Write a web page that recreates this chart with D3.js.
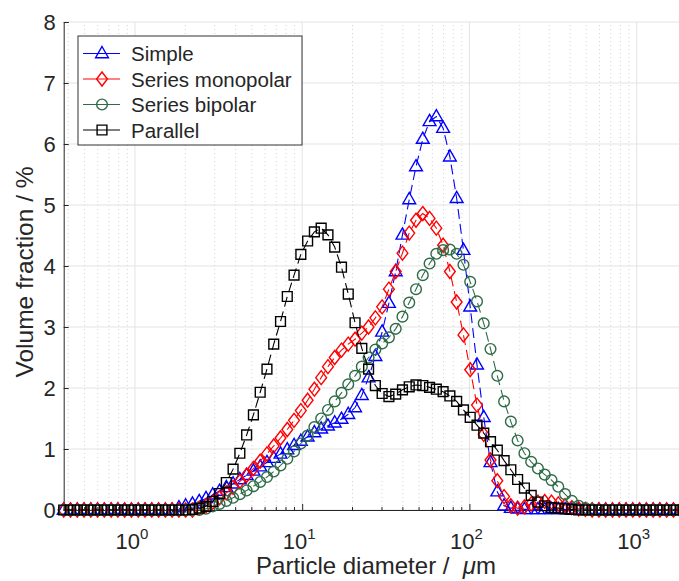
<!DOCTYPE html>
<html>
<head>
<meta charset="utf-8">
<script src="https://cdn.jsdelivr.net/npm/d3@7"></script>
<style>
  body { margin: 0; background: #fff; }
  text { font-family: "Liberation Sans", Arial, Helvetica, sans-serif; fill: #262626; }
</style>
</head>
<body>
<div id="chart"></div>
<script>
// size classes (µm), lower channel edges
var diameters = [0.375, 0.412, 0.452, 0.496, 0.545, 0.598, 0.656, 0.721, 0.791, 0.868,
  0.953, 1.047, 1.149, 1.261, 1.385, 1.520, 1.668, 1.832, 2.010, 2.207,
  2.423, 2.660, 2.920, 3.205, 3.519, 3.863, 4.240, 4.655, 5.110, 5.610,
  6.158, 6.760, 7.421, 8.147, 8.943, 9.818, 10.78, 11.83, 12.99, 14.26,
  15.65, 17.18, 18.86, 20.71, 22.73, 24.95, 27.39, 30.07, 33.01, 36.24,
  39.78, 43.67, 47.94, 52.62, 57.77, 63.41, 69.61, 76.42, 83.89, 92.09,
  101.1, 111.0, 121.8, 133.7, 146.8, 161.2, 176.9, 194.2, 213.2, 234.1,
  256.9, 282.1, 309.6, 339.9, 373.1, 409.6, 449.7, 493.6, 541.9, 594.9,
  653.0, 716.9, 786.9, 863.9, 948.3, 1041, 1143, 1255, 1377, 1512,
  1660, 1822];

var simple = [0, 0, 0, 0, 0, 0, 0, 0, 0, 0,
  0, 0, 0, 0, 0, 0, 0, 0.04, 0.07, 0.10,
  0.14, 0.19, 0.25, 0.31, 0.37, 0.43, 0.50, 0.57, 0.64, 0.71,
  0.78, 0.85, 0.92, 0.99, 1.06, 1.13, 1.20, 1.27, 1.33, 1.38,
  1.43, 1.49, 1.57, 1.68, 1.88, 2.17, 2.52, 2.92, 3.39, 3.91,
  4.51, 5.09, 5.63, 6.08, 6.37, 6.45, 6.26, 5.79, 5.11, 4.26,
  3.33, 2.38, 1.52, 0.78, 0.30, 0.07, 0.03, 0.02, 0.01, 0.01,
  0.01, 0.01, 0.01, 0.01, 0.01, 0, 0, 0, 0, 0,
  0, 0, 0, 0, 0, 0, 0, 0, 0, 0,
  0, 0];

var seriesMono = [0, 0, 0, 0, 0, 0, 0, 0, 0, 0,
  0, 0, 0, 0, 0, 0, 0, 0, 0, 0,
  0.03, 0.07, 0.13, 0.20, 0.28, 0.37, 0.47, 0.57, 0.68, 0.80,
  0.92, 1.05, 1.18, 1.32, 1.47, 1.63, 1.80, 1.98, 2.17, 2.35,
  2.50, 2.62, 2.72, 2.80, 2.90, 3.00, 3.15, 3.33, 3.62, 3.91,
  4.21, 4.54, 4.75, 4.86, 4.78, 4.62, 4.34, 3.91, 3.41, 2.87,
  2.30, 1.72, 1.24, 0.82, 0.48, 0.22, 0.07, 0.03, 0.05, 0.10,
  0.13, 0.14, 0.13, 0.10, 0.07, 0.04, 0.02, 0.01, 0, 0,
  0, 0, 0, 0, 0, 0, 0, 0, 0, 0,
  0, 0];

var seriesBi = [0, 0, 0, 0, 0, 0, 0, 0, 0, 0,
  0, 0, 0, 0, 0, 0, 0, 0, 0, 0,
  0, 0.02, 0.06, 0.10, 0.15, 0.20, 0.26, 0.32, 0.39, 0.46,
  0.54, 0.63, 0.73, 0.84, 0.96, 1.09, 1.22, 1.36, 1.50, 1.64,
  1.78, 1.92, 2.06, 2.20, 2.35, 2.50, 2.63, 2.73, 2.83, 2.97,
  3.17, 3.40, 3.62, 3.85, 4.04, 4.20, 4.26, 4.27, 4.20, 4.02,
  3.74, 3.42, 3.06, 2.64, 2.20, 1.78, 1.45, 1.14, 0.93, 0.79,
  0.68, 0.58, 0.49, 0.38, 0.26, 0.15, 0.07, 0.03, 0.01, 0,
  0, 0, 0, 0, 0, 0, 0, 0, 0, 0,
  0, 0];

var parallel = [0, 0, 0, 0, 0, 0, 0, 0, 0, 0,
  0, 0, 0, 0, 0, 0, 0, 0, 0, 0.01,
  0.03, 0.06, 0.14, 0.27, 0.45, 0.67, 0.93, 1.23, 1.56, 1.93,
  2.31, 2.72, 3.09, 3.50, 3.85, 4.19, 4.41, 4.56, 4.62, 4.51,
  4.31, 3.98, 3.54, 3.07, 2.65, 2.31, 2.04, 1.91, 1.86, 1.90,
  1.97, 2.02, 2.05, 2.04, 2.01, 1.98, 1.94, 1.87, 1.78, 1.64,
  1.52, 1.39, 1.26, 1.12, 0.98, 0.81, 0.66, 0.50, 0.36, 0.24,
  0.13, 0.07, 0.04, 0.03, 0.02, 0.01, 0, 0, 0, 0,
  0, 0, 0, 0, 0, 0, 0, 0, 0, 0,
  0, 0];

var seriesNames = ["Simple", "Series monopolar", "Series bipolar", "Parallel"];
var yTicks = [0, 1, 2, 3, 4, 5, 6, 7, 8];
var xTicks = [1, 10, 100, 1000];

var width = 679, height = 581;
var margin = {left: 63.7, top: 22, bottom: 510};

var svg = d3.select("#chart").append("svg")
    .attr("width", width)
    .attr("height", height);

svg.append("rect").attr("width", width).attr("height", height).attr("fill", "#fff");

var x = d3.scaleLog().domain([0.375, 2000]).range([margin.left, 687]);
var y = d3.scaleLinear().domain([0, 8]).range([margin.bottom, margin.top]);

// grid
var minor = [];
[0.1, 1, 10, 100, 1000].forEach(function(p) {
    for (var m = 2; m <= 9; m++) minor.push(p * m);
});
minor = minor.filter(function(v) { return v > 0.375 && v < 2000; });

var grid = svg.append("g");
grid.selectAll(".minor").data(minor).enter().append("line")
    .attr("x1", function(d) { return x(d); }).attr("x2", function(d) { return x(d); })
    .attr("y1", y(0)).attr("y2", y(8))
    .attr("stroke", "#c8c8c8").attr("stroke-width", 0.8).attr("stroke-dasharray", "1,3");
grid.selectAll(".majx").data(xTicks).enter().append("line")
    .attr("x1", function(d) { return x(d); }).attr("x2", function(d) { return x(d); })
    .attr("y1", y(0)).attr("y2", y(8))
    .attr("stroke", "#e3e3e3").attr("stroke-width", 1);
grid.selectAll(".majy").data(yTicks).enter().append("line")
    .attr("x1", margin.left).attr("x2", width)
    .attr("y1", function(d) { return y(d); }).attr("y2", function(d) { return y(d); })
    .attr("stroke", "#e3e3e3").attr("stroke-width", 1);

// axes
var yAxis = svg.append("g")
    .attr("transform", "translate(" + margin.left + ",0)")
    .call(d3.axisLeft(y).tickValues(yTicks).tickSize(-5).tickPadding(8).tickFormat(d3.format("d")));
yAxis.selectAll("text").style("font-size", "22px").attr("fill", "#262626");

var xAxis = svg.append("g")
    .attr("transform", "translate(0," + margin.bottom + ")")
    .call(d3.axisBottom(x).tickValues(xTicks).tickSize(-6).tickFormat(""));
xAxis.selectAll(".minor-tick").data(minor).enter().append("line")
    .attr("x1", function(d) { return x(d); }).attr("x2", function(d) { return x(d); })
    .attr("y1", 0).attr("y2", -3).attr("stroke", "#262626");

[yAxis, xAxis].forEach(function(a) {
    a.selectAll("path, line").attr("stroke", "#262626");
    a.select(".domain").attr("stroke-width", 1);
});

var xl = svg.append("g").selectAll("text").data(xTicks).enter().append("text")
    .attr("x", function(d) { return x(d) - 3; })
    .attr("y", 549)
    .attr("text-anchor", "middle")
    .style("font-size", "22px");
xl.append("tspan").text("10");
xl.append("tspan").attr("dy", -10).style("font-size", "15px")
    .text(function(d) { return Math.round(Math.log10(d)); });

svg.append("text")
    .attr("x", 376).attr("y", 574)
    .attr("text-anchor", "middle")
    .style("font-size", "24px")
    .html('Particle diameter /&#160; <tspan font-style="italic">μ</tspan>m');

svg.append("text")
    .attr("transform", "translate(33,272) rotate(-90)")
    .attr("text-anchor", "middle")
    .style("font-size", "24.5px")
    .text("Volume fraction / %");

// series
var series = [
    {name: seriesNames[0], values: simple, color: "#0000ff", shape: "triangle"},
    {name: seriesNames[1], values: seriesMono, color: "#ff0000", shape: "diamond"},
    {name: seriesNames[2], values: seriesBi, color: "#2e6b47", shape: "circle"},
    {name: seriesNames[3], values: parallel, color: "#000000", shape: "square"}
];

function markerPath(shape) {
    if (shape === "triangle") return "M0,-7L6.4,4.2L-6.4,4.2Z";
    if (shape === "diamond") return "M0,-7L5.4,0L0,7L-5.4,0Z";
    if (shape === "circle") return d3.symbol(d3.symbolCircle, 90)();
    return "M-4.9,-4.9H4.9V4.9H-4.9Z";
}

var line = d3.line()
    .x(function(d, i) { return x(diameters[i]); })
    .y(function(d) { return y(d); });

var plot = svg.append("g");
series.forEach(function(s) {
    var g = plot.append("g");
    g.append("path")
        .datum(s.values)
        .attr("d", line)
        .attr("fill", "none")
        .attr("stroke", s.color)
        .attr("stroke-width", 1.1)
        .attr("stroke-dasharray", "10,5");
    g.selectAll("path.m").data(s.values).enter().append("path")
        .attr("class", "m")
        .attr("d", markerPath(s.shape))
        .attr("transform", function(d, i) { return "translate(" + x(diameters[i]) + "," + y(d) + ")"; })
        .attr("fill", "none")
        .attr("stroke", s.color)
        .attr("stroke-width", 1.4);
});

// legend
var legend = svg.append("g").attr("transform", "translate(78,36)");
legend.append("rect")
    .attr("width", 224).attr("height", 109)
    .attr("fill", "#fff").attr("stroke", "#333").attr("stroke-width", 1);
var li = legend.selectAll(".item").data(series).enter().append("g")
    .attr("transform", function(d, i) { return "translate(0," + (17.5 + i * 25.5) + ")"; });
li.append("line").attr("x1", 5).attr("x2", 42).attr("y1", 0).attr("y2", 0)
    .attr("stroke", function(d) { return d.color; }).attr("stroke-width", 1);
li.append("path")
    .attr("d", function(d) { return markerPath(d.shape); })
    .attr("transform", "translate(24,0)")
    .attr("fill", "none")
    .attr("stroke", function(d) { return d.color; })
    .attr("stroke-width", 1.4);
li.append("text").attr("x", 53).attr("y", 7.5)
    .style("font-size", "20.5px")
    .text(function(d) { return d.name; });
</script>
</body>
</html>
